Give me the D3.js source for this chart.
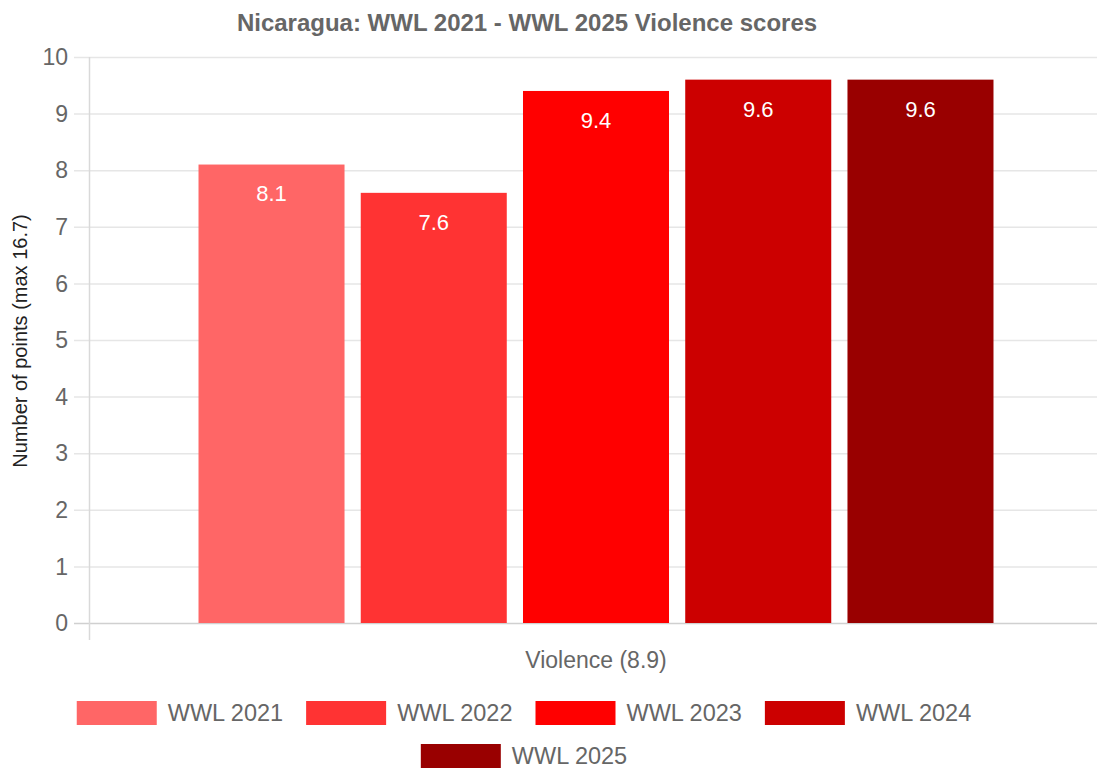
<!DOCTYPE html>
<meta charset="utf-8">
<style>
    body { margin: 0; background: #fff; }
    svg { display: block; font-family: "Liberation Sans", Arial, Helvetica, sans-serif; }
</style>
<svg width="1097" height="769"></svg>
<script src="https://d3js.org/d3.v7.min.js"></script>
<script>
    // data
    var category = "Violence (8.9)";
    var years = ["WWL 2021", "WWL 2022", "WWL 2023", "WWL 2024", "WWL 2025"];
    var scores = [8.1, 7.6, 9.4, 9.6, 9.6];
    var colors = ["#ff6666", "#ff3333", "#ff0000", "#cc0000", "#990000"];
    var yTicks = [0, 1, 2, 3, 4, 5, 6, 7, 8, 9, 10];

    var svg = d3.select("svg");
    var width = +svg.attr("width");

    var plotLeft = 89, plotRight = 1103, plotTop = 57, plotBottom = 623;

    var x0 = d3.scaleBand().domain([category]).range([plotLeft, plotRight]).paddingOuter(0);
    var cx = x0(category) + x0.bandwidth() / 2;
    var groupW = x0.bandwidth() * 0.8;
    var x1 = d3.scaleBand().domain(years).range([cx - groupW / 2, cx + groupW / 2])
        .paddingInner(0.1).paddingOuter(0.05);
    var y = d3.scaleLinear().domain([0, 10]).range([plotBottom, plotTop]);

    // title
    svg.append("text")
        .attr("x", 527).attr("y", 31)
        .attr("text-anchor", "middle")
        .attr("font-size", 24).attr("font-weight", "bold")
        .attr("fill", "#666")
        .text("Nicaragua: WWL 2021 - WWL 2025 Violence scores");

    // grid
    svg.append("g").selectAll("line")
        .data(yTicks)
        .enter().append("line")
        .attr("x1", 74).attr("x2", width)
        .attr("y1", function (d) { return y(d) + 0.5; })
        .attr("y2", function (d) { return y(d) + 0.5; })
        .attr("stroke", function (d) { return d === 0 ? "#d0d0d0" : "#e6e6e6"; })
        .attr("stroke-width", 1.5);

    svg.append("line")
        .attr("x1", plotLeft + 0.5).attr("x2", plotLeft + 0.5)
        .attr("y1", plotTop).attr("y2", 640)
        .attr("stroke", "#d9d9d9").attr("stroke-width", 1.5);

    // y tick labels
    svg.append("g").selectAll("text")
        .data(yTicks)
        .enter().append("text")
        .attr("x", 68)
        .attr("y", function (d) { return y(d); })
        .attr("dy", "0.36em")
        .attr("text-anchor", "end")
        .attr("font-size", 23)
        .attr("fill", "#666")
        .text(function (d) { return d; });

    // y title
    svg.append("text")
        .attr("transform", "translate(27," + ((plotTop + plotBottom) / 2 + 1) + ") rotate(-90)")
        .attr("text-anchor", "middle")
        .attr("font-size", 20)
        .attr("fill", "#222")
        .text("Number of points (max 16.7)");

    // bars
    var bars = svg.append("g").selectAll("g")
        .data(scores)
        .enter().append("g");

    bars.append("rect")
        .attr("x", function (d, i) { return x1(years[i]); })
        .attr("y", function (d) { return y(d); })
        .attr("width", x1.bandwidth())
        .attr("height", function (d) { return y(0) - y(d); })
        .attr("fill", function (d, i) { return colors[i]; });

    bars.append("text")
        .attr("x", function (d, i) { return x1(years[i]) + x1.bandwidth() / 2; })
        .attr("y", function (d) { return y(d) + 29; })
        .attr("dy", "0.36em")
        .attr("text-anchor", "middle")
        .attr("font-size", 22)
        .attr("fill", "#fff")
        .text(function (d) { return d; });

    // x label
    svg.append("text")
        .attr("x", cx).attr("y", 660)
        .attr("dy", "0.36em")
        .attr("text-anchor", "middle")
        .attr("font-size", 23)
        .attr("fill", "#666")
        .text(category);

    // legend
    var boxW = 80, boxH = 24, textGap = 11, itemGap = 23, maxRow = 1000, legendCx = 524;
    var legend = svg.append("g");
    var items = years.map(function (name, i) {
        var g = legend.append("g");
        g.append("rect").attr("width", boxW).attr("height", boxH)
            .attr("fill", colors[i]);
        var t = g.append("text")
            .attr("x", boxW + textGap).attr("y", boxH / 2)
            .attr("dy", "0.36em")
            .attr("font-size", 23.5)
            .attr("fill", "#666")
            .text(name);
        return { g: g, w: boxW + textGap + t.node().getComputedTextLength() };
    });

    var rows = [[]], rowW = [0];
    items.forEach(function (it) {
        var r = rows.length - 1;
        var add = (rows[r].length ? itemGap : 0) + it.w;
        if (rows[r].length && rowW[r] + add > maxRow) {
            rows.push([it]); rowW.push(it.w);
        } else {
            rows[r].push(it); rowW[r] += add;
        }
    });
    rows.forEach(function (row, r) {
        var xx = legendCx - rowW[r] / 2;
        row.forEach(function (it) {
            it.g.attr("transform", "translate(" + xx + "," + (701 + r * 43) + ")");
            xx += it.w + itemGap;
        });
    });
</script>
